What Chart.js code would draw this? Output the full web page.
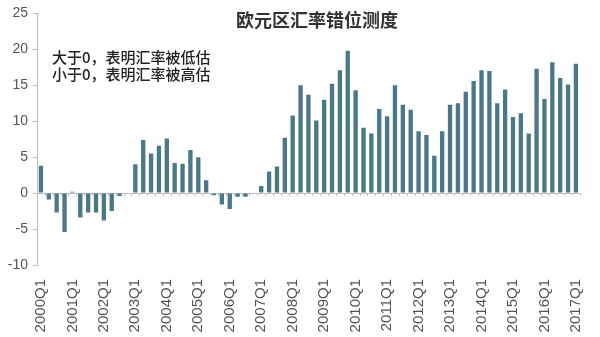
<!DOCTYPE html>
<html>
<head>
<meta charset="utf-8">
<script src="https://cdn.jsdelivr.net/npm/chart.js@4/dist/chart.umd.min.js"></script>
<style>
  html, body { margin: 0; padding: 0; background: #fff; }
  #wrap { width: 600px; height: 337px; position: relative; }
</style>
</head>
<body>
<div id="wrap"><canvas id="c" width="600" height="337"></canvas></div>
<script>
const title = '欧元区汇率错位测度';
const notes = ['大于0，表明汇率被低估', '小于0，表明汇率被高估'];

const years = [2000, 2001, 2002, 2003, 2004, 2005, 2006, 2007, 2008,
  2009, 2010, 2011, 2012, 2013, 2014, 2015, 2016, 2017];
const quarters = ['Q1', 'Q2', 'Q3', 'Q4'];

// misalignment, 2000Q1 .. 2017Q1
const misalign = [
  3.8, -0.9, -2.7, -5.4,
  0.2, -3.4, -2.7, -2.7,
  -3.8, -2.5, -0.4, 0.1,
  4.0, 7.4, 5.5, 6.6,
  7.6, 4.2, 4.1, 6.0,
  5.0, 1.8, -0.3, -1.6,
  -2.2, -0.5, -0.5, 0.0,
  1.0, 3.0, 3.7, 7.7,
  10.8, 15.0, 13.7, 10.1,
  13.0, 15.2, 17.1, 19.8,
  14.3, 9.1, 8.3, 11.7,
  10.7, 15.0, 12.3, 11.6,
  8.6, 8.1, 5.2, 8.6,
  12.3, 12.5, 14.1, 15.6,
  17.1, 17.0, 12.5, 14.4,
  10.6, 11.1, 8.3, 17.3,
  13.1, 18.2, 16.0, 15.1,
  18.0,
];

const yTicks = [25, 20, 15, 10, 5, 0, -5, -10];

const labels = [];
years.forEach(y => quarters.forEach(q => labels.push(y + q)));
labels.length = misalign.length;

// title, notes and the small tick marks along the zero line
const extras = {
  id: 'extras',
  afterDatasetsDraw(chart) {
    const { ctx, scales: { x, y } } = chart;
    const zero = y.getPixelForValue(0);
    const step = x.getPixelForValue(1) - x.getPixelForValue(0);
    ctx.save();
    ctx.strokeStyle = '#bdbdbd';
    ctx.lineWidth = 1;
    ctx.beginPath();
    for (let i = 0; i <= misalign.length; i++) {
      const px = Math.round(x.getPixelForValue(i) - step / 2) + 0.5;
      ctx.moveTo(px, zero);
      ctx.lineTo(px, zero + 3);
    }
    ctx.stroke();

    ctx.fillStyle = '#333';
    ctx.font = 'bold 18px "Noto Sans CJK SC"';
    ctx.textAlign = 'center';
    ctx.textBaseline = 'middle';
    ctx.fillText(title, 317, 20);

    ctx.fillStyle = '#222';
    ctx.font = '500 15px "Noto Sans CJK SC"';
    ctx.textAlign = 'left';
    ctx.fillText(notes[0], 52, 57);
    ctx.fillText(notes[1], 52, 74);
    ctx.restore();
  },
};

new Chart(document.getElementById('c'), {
  type: 'bar',
  data: {
    labels,
    datasets: [{
      data: misalign,
      backgroundColor: '#4a7888',
      barPercentage: 0.55,
      categoryPercentage: 1,
    }],
  },
  options: {
    responsive: false,
    animation: false,
    layout: { padding: { top: 6, right: 11, bottom: 0, left: 0 } },
    plugins: { legend: { display: false }, tooltip: { enabled: false } },
    scales: {
      x: {
        grid: { display: false },
        border: { display: false },
        afterFit(axis) { axis.height = 72; },
        ticks: {
          autoSkip: false,
          minRotation: 90,
          maxRotation: 90,
          padding: 6,
          color: '#555',
          font: { family: 'Liberation Sans', size: 15 },
          callback(v, i) { return i % 4 === 0 ? labels[i] : ''; },
        },
      },
      y: {
        min: -10,
        max: 25,
        afterFit(axis) { axis.width = 37; },
        afterBuildTicks(axis) { axis.ticks = yTicks.map(v => ({ value: v })); },
        border: { display: true, color: '#bdbdbd' },
        grid: {
          drawOnChartArea: true,
          color: c => (c.tick && c.tick.value === 0 ? '#bdbdbd' : 'rgba(0,0,0,0)'),
          tickColor: '#bdbdbd',
          tickLength: 4,
        },
        ticks: {
          padding: 5,
          color: '#555',
          font: { family: 'Liberation Sans', size: 14 },
        },
      },
    },
  },
  plugins: [extras],
});
</script>
</body>
</html>
